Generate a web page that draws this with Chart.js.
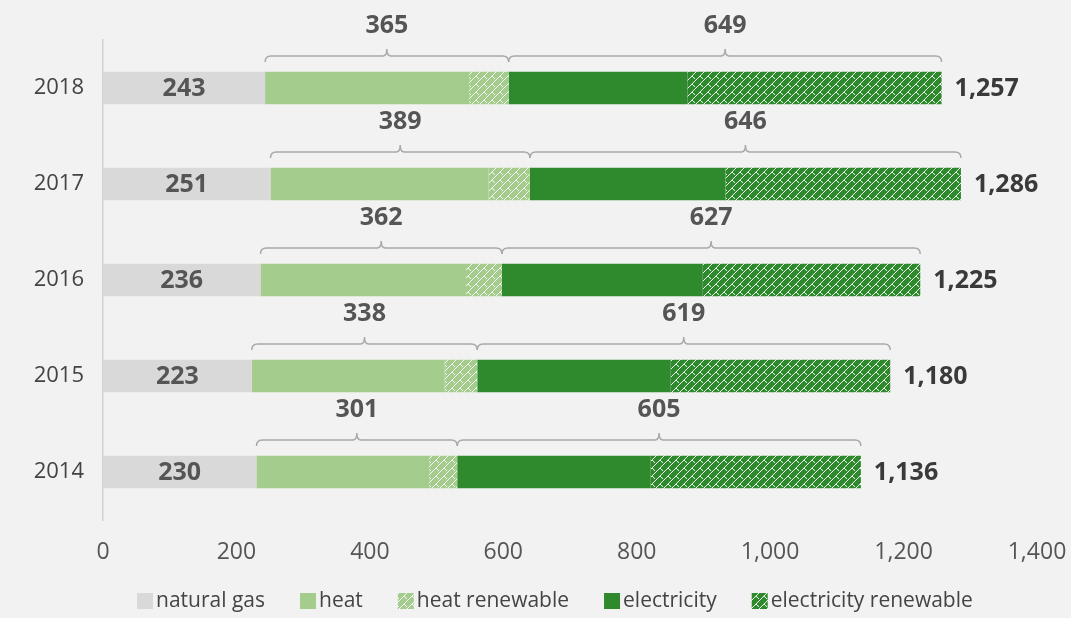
<!DOCTYPE html>
<html>
<head>
<meta charset="utf-8">
<script src="https://cdn.jsdelivr.net/npm/chart.js@4.4.0/dist/chart.umd.min.js"></script>
<style>
  html, body { margin: 0; padding: 0; background: #f2f2f2; }
  #wrap { width: 1071px; height: 618px; position: relative; }
</style>
</head>
<body>
<div id="wrap"><canvas id="energyChart"></canvas></div>
<script>
const years = ["2018", "2017", "2016", "2015", "2014"];
const naturalGas = [243, 251, 236, 223, 230];
const heat = [306, 327, 308, 289, 259];
const heatRenewable = [59, 62, 54, 49, 42];
const electricity = [268, 293, 301, 290, 290];
const electricityRenewable = [381, 353, 326, 329, 315];
const heatTotals = [365, 389, 362, 338, 301];
const electricityTotals = [649, 646, 627, 619, 605];
const grandTotals = [1257, 1286, 1225, 1180, 1136];
const xTicks = [0, 200, 400, 600, 800, 1000, 1200, 1400];

const GRAY = "#d9d9d9";
const HEAT = "#a4cd8d";
const ELEC = "#2f8a2d";
const FONT = "'Open Sans', 'Noto Sans', sans-serif";

function makePattern(base) {
  const c = document.createElement("canvas");
  c.width = 8;
  c.height = 8;
  const g = c.getContext("2d");
  g.fillStyle = base;
  g.fillRect(0, 0, 8, 8);
  g.strokeStyle = "rgba(255,255,255,0.9)";
  g.lineWidth = 1;
  g.beginPath();
  g.moveTo(-1, 9); g.lineTo(9, -1);
  g.moveTo(-1, 1); g.lineTo(1, -1);
  g.moveTo(7, 9); g.lineTo(9, 7);
  g.moveTo(4, 4); g.lineTo(7, 7);
  g.stroke();
  return g.createPattern(c, "repeat");
}

const heatPattern = makePattern(HEAT);
const elecPattern = makePattern(ELEC);

const fmt = (v) => v.toLocaleString("en-US");

function drawBrace(ctx, x1, x2, y) {
  const mid = (x1 + x2) / 2;
  const r = 6;
  ctx.beginPath();
  ctx.moveTo(x1, y + r);
  ctx.quadraticCurveTo(x1, y, x1 + r, y);
  ctx.lineTo(mid - 4, y);
  ctx.quadraticCurveTo(mid, y, mid, y - 7);
  ctx.quadraticCurveTo(mid, y, mid + 4, y);
  ctx.lineTo(x2 - r, y);
  ctx.quadraticCurveTo(x2, y, x2, y + r);
  ctx.stroke();
}

const annotations = {
  id: "annotations",
  afterDatasetsDraw(chart) {
    const ctx = chart.ctx;
    const x = chart.scales.x;
    const y = chart.scales.y;
    ctx.save();
    years.forEach((yr, i) => {
      const cy = y.getPixelForValue(i);
      const gasEnd = x.getPixelForValue(naturalGas[i]);
      const heatEnd = x.getPixelForValue(naturalGas[i] + heatTotals[i]);
      const totEnd = x.getPixelForValue(grandTotals[i]);
      const x0 = x.getPixelForValue(0);

      // value inside natural gas bar
      ctx.font = "bold 25px " + FONT;
      ctx.fillStyle = "#555555";
      ctx.textAlign = "center";
      ctx.textBaseline = "middle";
      ctx.fillText(fmt(naturalGas[i]), (x0 + gasEnd) / 2, cy + 1);

      // total at the end
      ctx.fillStyle = "#3a3a3a";
      ctx.textAlign = "left";
      ctx.fillText(fmt(grandTotals[i]), totEnd + 13, cy + 1);

      // braces
      ctx.strokeStyle = "#a8a8a8";
      ctx.lineWidth = 1.5;
      const by = cy - 32;
      drawBrace(ctx, gasEnd, heatEnd, by);
      drawBrace(ctx, heatEnd, totEnd, by);

      ctx.fillStyle = "#555555";
      ctx.textAlign = "center";
      ctx.fillText(fmt(heatTotals[i]), (gasEnd + heatEnd) / 2, cy - 62);
      ctx.fillText(fmt(electricityTotals[i]), (heatEnd + totEnd) / 2, cy - 62);
    });

    // legend
    const items = chart.data.datasets;
    ctx.font = "21px " + FONT;
    ctx.textBaseline = "middle";
    ctx.textAlign = "left";
    let lx = 137;
    const ly = 601;
    items.forEach((ds) => {
      ctx.fillStyle = ds.backgroundColor;
      ctx.fillRect(lx, ly - 8, 16, 16);
      lx += 19;
      ctx.fillStyle = "#444444";
      ctx.fillText(ds.label, lx, ly);
      lx += ctx.measureText(ds.label).width + 35;
    });
    ctx.restore();
  },
};

new Chart(document.getElementById("energyChart"), {
  type: "bar",
  data: {
    labels: years,
    datasets: [
      { label: "natural gas", data: naturalGas, backgroundColor: GRAY },
      { label: "heat", data: heat, backgroundColor: HEAT },
      { label: "heat renewable", data: heatRenewable, backgroundColor: heatPattern },
      { label: "electricity", data: electricity, backgroundColor: ELEC },
      { label: "electricity renewable", data: electricityRenewable, backgroundColor: elecPattern },
    ],
  },
  options: {
    indexAxis: "y",
    responsive: true,
    maintainAspectRatio: false,
    animation: false,
    layout: { padding: { top: 40, right: 34, left: 0, bottom: 46 } },
    datasets: {
      bar: { barPercentage: 0.34, categoryPercentage: 1, borderWidth: 0 },
    },
    plugins: {
      legend: { display: false },
      tooltip: { enabled: false },
    },
    scales: {
      x: {
        stacked: true,
        min: 0,
        max: 1400,
        afterBuildTicks: (s) => { s.ticks = xTicks.map((v) => ({ value: v })); },
        afterFit: (s) => { s.height = 52; s.paddingRight = 0; s.paddingLeft = 0; },
        grid: { display: false, drawTicks: false },
        border: { display: false },
        ticks: {
          padding: 19,
          color: "#555555",
          font: { family: FONT, size: 23 },
          callback: (v) => fmt(v),
        },
      },
      y: {
        stacked: true,
        afterFit: (s) => { s.width = 103; },
        grid: { display: false, drawTicks: false },
        border: { display: true, color: "#d2d2d2", width: 1.5 },
        ticks: {
          padding: 19,
          color: "#444444",
          font: { family: FONT, size: 22 },
        },
      },
    },
  },
  plugins: [annotations],
});
</script>
</body>
</html>
